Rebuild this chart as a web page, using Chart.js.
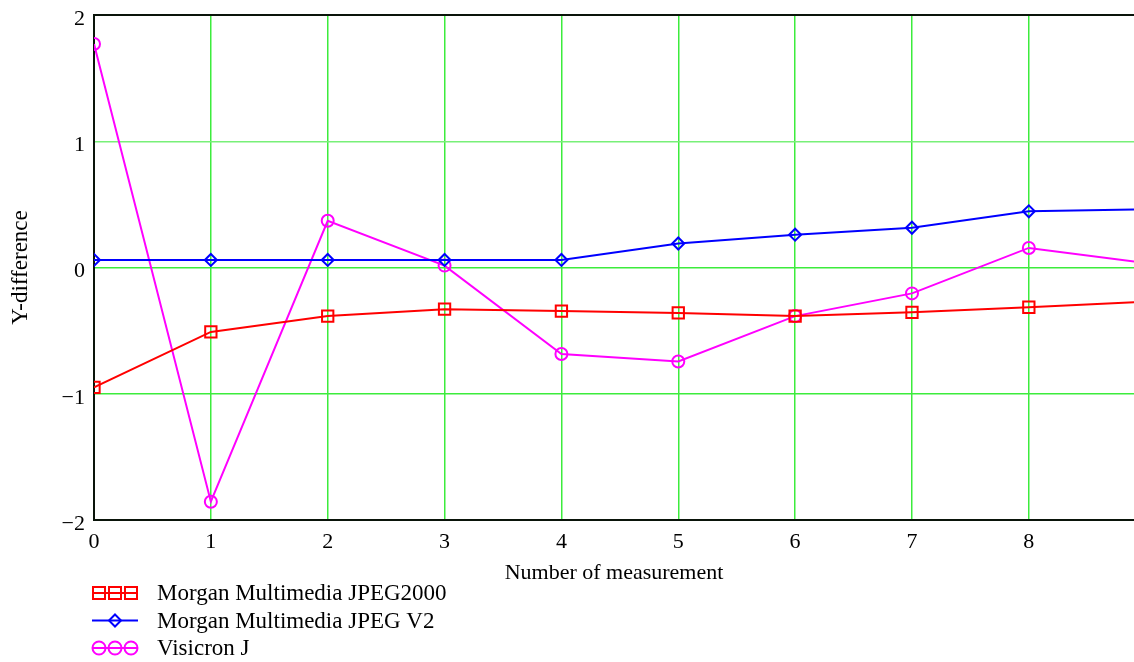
<!DOCTYPE html>
<html>
<head>
<meta charset="utf-8">
<script src="https://cdn.jsdelivr.net/npm/chart.js@4/dist/chart.umd.min.js"></script>
<style>
  html, body { margin: 0; padding: 0; background: #fff; }
</style>
</head>
<body>
<canvas id="chart" width="1134" height="662"></canvas>
<script>
// data
const measurements = [0, 1, 2, 3, 4, 5, 6, 7, 8, 9];
const jpeg2000 = [-0.95, -0.51, -0.385, -0.33, -0.345, -0.36, -0.385, -0.355, -0.315, -0.27];
const jpegV2 = [0.06, 0.06, 0.06, 0.06, 0.06, 0.19, 0.26, 0.315, 0.445, 0.46];
const visicron = [1.77, -1.855, 0.37, 0.015, -0.685, -0.745, -0.385, -0.205, 0.155, 0.035];
const xTicks = [0, 1, 2, 3, 4, 5, 6, 7, 8];
const yTicks = [-2, -1, 0, 1, 2];

const serif = 'Liberation Serif, Times New Roman, serif';
const green = 'rgb(60, 236, 60)';
const paleGreen = 'rgb(120, 240, 120)';
const frame = '#0a140a';

function pts(ys) {
  return measurements.map((x, i) => ({ x: x, y: ys[i] }));
}

// top frame line + legend below the axis title
const extras = {
  id: 'extras',
  afterDraw(chart) {
    const ctx = chart.ctx;
    const a = chart.chartArea;
    ctx.save();
    ctx.strokeStyle = frame;
    ctx.lineWidth = 2;
    ctx.beginPath();
    ctx.moveTo(a.left - 1, a.top);
    ctx.lineTo(a.right, a.top);
    ctx.stroke();

    chart.data.datasets.forEach((ds, i) => {
      const y = 593 + i * 27.5;
      ctx.strokeStyle = ds.borderColor;
      ctx.lineWidth = 2;
      ctx.beginPath();
      ctx.moveTo(92, y);
      ctx.lineTo(138, y);
      ctx.stroke();
      const xs = ds.pointStyle === 'rectRot' ? [115] : [99, 115, 131];
      xs.forEach(x => {
        ctx.beginPath();
        if (ds.pointStyle === 'rect') {
          ctx.rect(x - 6, y - 6, 12, 12);
        } else if (ds.pointStyle === 'rectRot') {
          ctx.moveTo(x, y - 6); ctx.lineTo(x + 6, y); ctx.lineTo(x, y + 6); ctx.lineTo(x - 6, y); ctx.closePath();
        } else {
          ctx.arc(x, y, 6.5, 0, Math.PI * 2);
        }
        ctx.stroke();
      });
      ctx.fillStyle = '#000';
      ctx.font = '23px ' + serif;
      ctx.textBaseline = 'middle';
      ctx.textAlign = 'left';
      ctx.fillText(ds.label, 157, y + 1);
    });
    ctx.restore();
  }
};

new Chart(document.getElementById('chart'), {
  type: 'line',
  data: {
    datasets: [{
      label: 'Morgan Multimedia JPEG2000',
      data: pts(jpeg2000),
      borderColor: '#ff0000',
      backgroundColor: 'transparent',
      pointStyle: 'rect',
      pointRadius: 8,
      pointBorderWidth: 2,
      borderWidth: 2
    }, {
      label: 'Morgan Multimedia JPEG V2',
      data: pts(jpegV2),
      borderColor: '#0000ff',
      backgroundColor: 'transparent',
      pointStyle: 'rectRot',
      pointRadius: 6,
      pointBorderWidth: 2,
      borderWidth: 2
    }, {
      label: 'Visicron J',
      data: pts(visicron),
      borderColor: '#ff00ff',
      backgroundColor: 'transparent',
      pointStyle: 'circle',
      pointRadius: 6,
      pointBorderWidth: 2,
      borderWidth: 2
    }]
  },
  options: {
    responsive: false,
    animation: false,
    devicePixelRatio: 1,
    layout: { autoPadding: false, padding: { left: 0, right: 0, top: 15, bottom: 74 } },
    plugins: { legend: { display: false }, tooltip: { enabled: false } },
    scales: {
      x: {
        type: 'linear',
        min: 0,
        max: 8.9,
        afterBuildTicks: s => { s.ticks = xTicks.map(v => ({ value: v })); },
        afterFit: s => { s.height = 68; s.paddingLeft = 0; s.paddingRight = 0; },
        ticks: { font: { family: serif, size: 22 }, color: '#000', padding: 9, maxRotation: 0, includeBounds: false },
        grid: { color: green, lineWidth: 1.5, drawTicks: false },
        border: { color: frame, width: 2 },
        title: { display: true, text: 'Number of measurement', font: { family: serif, size: 22 }, color: '#000', padding: { top: 0, bottom: 2 } }
      },
      y: {
        min: -2,
        max: 2,
        afterBuildTicks: s => { s.ticks = yTicks.map(v => ({ value: v })); },
        afterFit: s => { s.width = 94; s.paddingTop = 0; s.paddingBottom = 0; },
        ticks: {
          font: { family: serif, size: 22 }, color: '#000', padding: 9, labelOffset: 4,
          callback: v => String(v).replace('-', '\u2212')
        },
        grid: {
          color: c => {
            if (!c.tick || Math.abs(c.tick.value) === 2) return 'rgba(0,0,0,0)';
            return c.tick.value === 1 ? paleGreen : green;
          },
          lineWidth: 1.5,
          drawTicks: false
        },
        border: { color: frame, width: 2 },
        title: { display: true, text: 'Y-difference', font: { family: serif, size: 23 }, color: '#000', padding: { top: 7, bottom: 0 } }
      }
    }
  },
  plugins: [extras]
});
</script>
</body>
</html>
